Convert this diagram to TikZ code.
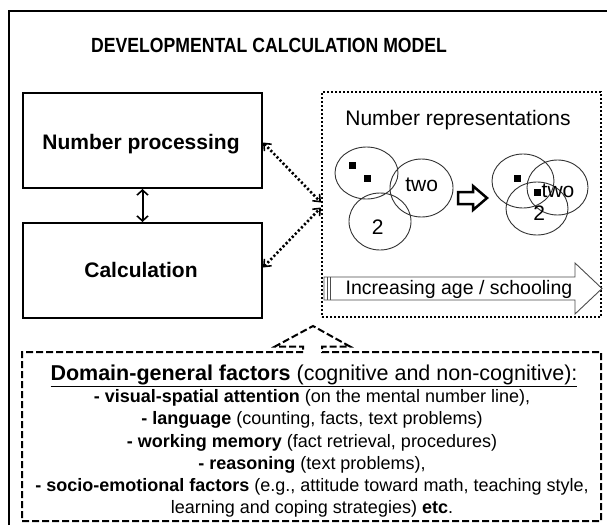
\documentclass[tikz,border=0pt]{standalone}
\usepackage{fontspec}
\setmainfont{Liberation Sans}
\newfontfamily\titlefont[FakeStretch=0.86]{Liberation Sans}
\usetikzlibrary{arrows.meta,shapes.geometric}
\begin{document}
\begin{tikzpicture}[x=1pt,y=-1pt,
  solidbox/.style={draw, line width=2pt, inner sep=0pt},
  circ/.style={draw=black!80, line width=0.9pt, ellipse, inner sep=0pt},
  dotsq/.style={fill=black, minimum size=7pt, inner sep=0pt},
  dotarr/.style={line width=2.6pt, dash pattern=on 2.2pt off 2.2pt, {Straight Barb[length=6pt,width=10pt,line width=1.6pt]}-{Straight Barb[length=6pt,width=10pt,line width=1.6pt]}},
  lbl/.style={anchor=base, inner sep=0pt},
  btxt/.style={anchor=base, inner sep=0pt, font=\fontsize{18}{20}\selectfont}
]
\useasboundingbox (0,0) rectangle (607,525);
\fill[white] (0,0) rectangle (607,525);
% outer frame
\draw[line width=2.5pt] (9,525) -- (9,11) -- (607,11);
% title
\node[lbl, font=\titlefont\fontsize{20.5}{23}\selectfont\bfseries] (title) at (269,52.5) {DEVELOPMENTAL CALCULATION MODEL};
% left boxes
\node[solidbox, minimum width=239pt, minimum height=95pt] (np) at (142.5,140.5) {};
\node[solidbox, minimum width=239pt, minimum height=95pt] (calc) at (142.5,270.5) {};
\node[lbl, font=\fontsize{21}{24}\selectfont\bfseries] (nptext) at (141,149.5) {Number processing};
\node[lbl, font=\fontsize{21}{24}\selectfont\bfseries] (calctext) at (141,277.5) {Calculation};
\draw[line width=2pt, {Straight Barb[length=5pt,width=11pt,line width=1.6pt]}-{Straight Barb[length=5pt,width=11pt,line width=1.6pt]}] (np.south) -- (calc.north);
% number representations box
\node[draw, line width=2pt, dash pattern=on 2pt off 2pt, minimum width=279pt, minimum height=225pt, inner sep=0pt] (nr) at (461.5,204.5) {};
\draw[dotarr] ([yshift=-2pt]np.east) -- ([yshift=2pt]nr.west);
\draw[dotarr] ([yshift=3pt]calc.east) -- ([yshift=-3pt]nr.west);
\node[lbl, font=\fontsize{21}{24}\selectfont] (nrtext) at (458,125.5) {Number representations};
% left group of circles
\node[circ, minimum width=63pt, minimum height=52pt] (e1) at (366.5,173) {};
\node[circ, minimum width=63pt, minimum height=58pt] (e2) at (421.5,188) {};
\node[circ, minimum width=62pt, minimum height=57pt] (e3) at (380,221.5) {};
\node[dotsq] (s1) at (352.7,165) {};
\node[dotsq] (s2) at (367,178.7) {};
\node[lbl, font=\fontsize{21}{24}\selectfont] (two1) at (421.7,191.5) {two};
\node[lbl, font=\fontsize{21}{24}\selectfont] (num1) at (377.7,234) {2};
% hollow arrow
\draw[line width=2.5pt, line join=miter] (458,192) -- (473,192) -- (473,186) -- (487,198) -- (473,210) -- (473,204) -- (458,204) -- cycle;
% right group of circles
\node[circ, minimum width=62pt, minimum height=54pt] (e4) at (523,181) {};
\node[circ, minimum width=61pt, minimum height=55pt] (e5) at (557.5,187.5) {};
\node[circ, minimum width=62pt, minimum height=53pt] (e6) at (537,208.5) {};
\node[dotsq] (s3) at (517.7,178.7) {};
\node[dotsq] (s4) at (537.3,192) {};
\node[lbl, font=\fontsize{21}{24}\selectfont] (two2) at (558,197.5) {two};
\node[lbl, font=\fontsize{21}{24}\selectfont] (num2) at (539.3,220.8) {2};
% age arrow
\draw[black!70, line width=0.9pt, line join=miter] (324,277) -- (575,277) -- (575,263) -- (602,288.5) -- (575,314) -- (575,300) -- (324,300) -- cycle;
\draw[black!70, line width=0.9pt] (327,277) -- (327,300) (330,277) -- (330,300);
\node[lbl, font=\fontsize{19.5}{22}\selectfont] (agetext) at (459,294) {Increasing age / schooling};
% bottom box with caret
\draw[line width=2pt, dash pattern=on 7pt off 3pt, line join=miter] (303,352) -- (22,352) -- (22,521) -- (601,521) -- (601,352) -- (322,352) -- (322,346.5) -- (350,346.5) -- (313,326) -- (275,346.5) -- (303,346.5) -- cycle;
\node[lbl, font=\fontsize{21.5}{24}\selectfont] (dg) at (314,380.5) {\underline{\textbf{Domain-general factors} (cognitive and non-cognitive):}};
\node[btxt] (l2) at (312,402) {\textbf{- visual-spatial attention} (on the mental number line),};
\node[btxt] (l3) at (312,424.5) {\textbf{- language} (counting, facts, text problems)};
\node[btxt] (l4) at (312,447) {\textbf{- working memory} (fact retrieval, procedures)};
\node[btxt] (l5) at (312,469) {\textbf{- reasoning} (text problems),};
\node[btxt] (l6) at (312,491.5) {\textbf{- socio-emotional factors} (e.g., attitude toward math, teaching style,};
\node[btxt] (l7) at (312,513.5) {learning and coping strategies) \textbf{etc}.};
\end{tikzpicture}
\end{document}
